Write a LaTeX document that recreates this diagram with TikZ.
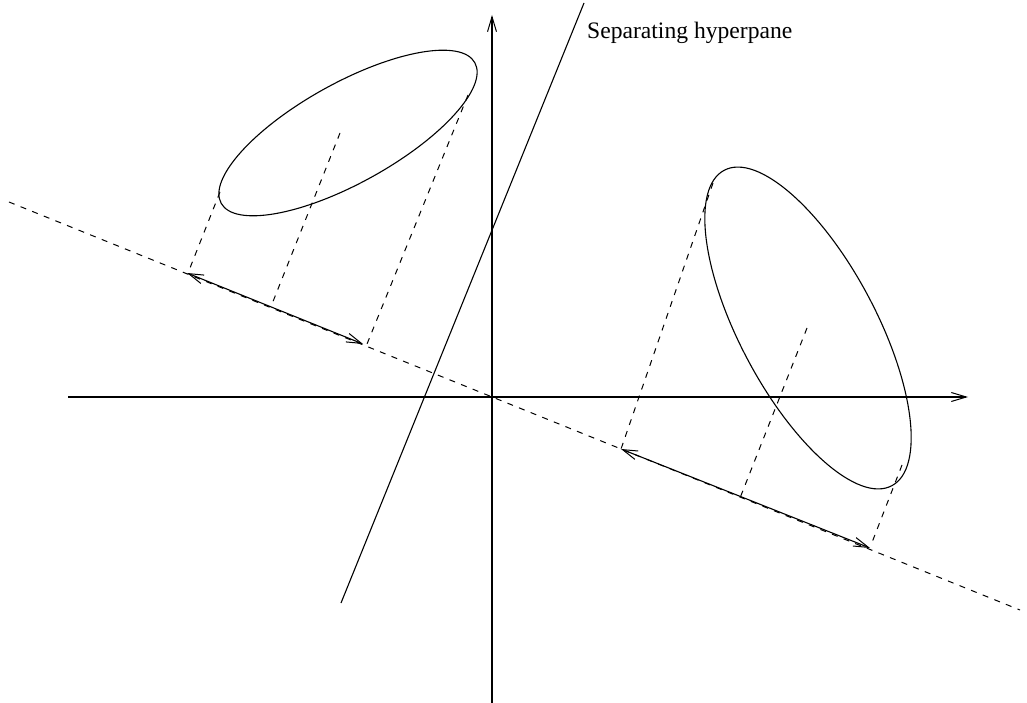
\documentclass[tikz,border=0pt]{standalone}
\usepackage{fontspec}
\setmainfont{Liberation Serif}
\usetikzlibrary{arrows.meta}
\begin{document}
\begin{tikzpicture}[x=1pt,y=-1pt,
  line join=round,
  solidln/.style={line width=1.1pt},
  dsh/.style={line width=1pt, dash pattern=on 6pt off 6.5pt},
  onetip/.style={-{Straight Barb[length=15pt,width=9pt,line width=1pt]}},
  twotip/.style={{Straight Barb[length=15pt,width=9pt,line width=1pt]}-{Straight Barb[length=15pt,width=9pt,line width=1pt]}}]
\useasboundingbox (0,0) rectangle (1027,703);
% coordinates
\coordinate (xl) at (68,397);
\coordinate (xr) at (968,397);
\coordinate (yb) at (492,703);
\coordinate (yt) at (492,15);
\coordinate (hb) at (341,603);
\coordinate (ht) at (584,3);
\coordinate (dl) at (9,202);
\coordinate (dr) at (1020,610);
\coordinate (a1) at (187,273);
\coordinate (a2) at (363,344);
\coordinate (b1) at (621,449);
\coordinate (b2) at (870,548);
\coordinate (c1) at (348,133);
\coordinate (c2) at (808,328);
\coordinate (p1s) at (220,192);
\coordinate (p1e) at (188,273);
\coordinate (p2s) at (340,133);
\coordinate (p2e) at (272,304);
\coordinate (p3s) at (468,95);
\coordinate (p3e) at (367,344);
\coordinate (q1s) at (713,183);
\coordinate (q1e) at (621,449);
\coordinate (q2s) at (807,328);
\coordinate (q2e) at (740,498);
\coordinate (q3s) at (902,465);
\coordinate (q3e) at (871,545);
% axes
\draw[solidln,onetip] (xl) -- (xr);
\draw[solidln,onetip] (yb) -- (yt);
% separating hyperplane
\draw[solidln] (hb) -- (ht);
\node[anchor=base west,inner sep=0pt,font=\fontsize{23.6pt}{28pt}\selectfont] (lbl) at (587,39) {Separating hyperpane};
% projection line
\draw[dsh] (dl) -- (dr);
% ellipses
\draw[solidln,rotate around={29:(c1)}] (c1) ellipse [x radius=145pt, y radius=50pt];
\draw[solidln,rotate around={-62:(c2)}] (c2) ellipse [x radius=178.6pt, y radius=68.1pt];
% projection segments
\draw[dsh] (p1s) -- (p1e);
\draw[dsh] (p2s) -- (p2e);
\draw[dsh] (p3s) -- (p3e);
\draw[dsh] (q1s) -- (q1e);
\draw[dsh] (q2s) -- (q2e);
\draw[dsh] (q3s) -- (q3e);
% projected intervals
\draw[solidln,twotip] (a1) -- (a2);
\draw[solidln,twotip] (b1) -- (b2);
\end{tikzpicture}
\end{document}
